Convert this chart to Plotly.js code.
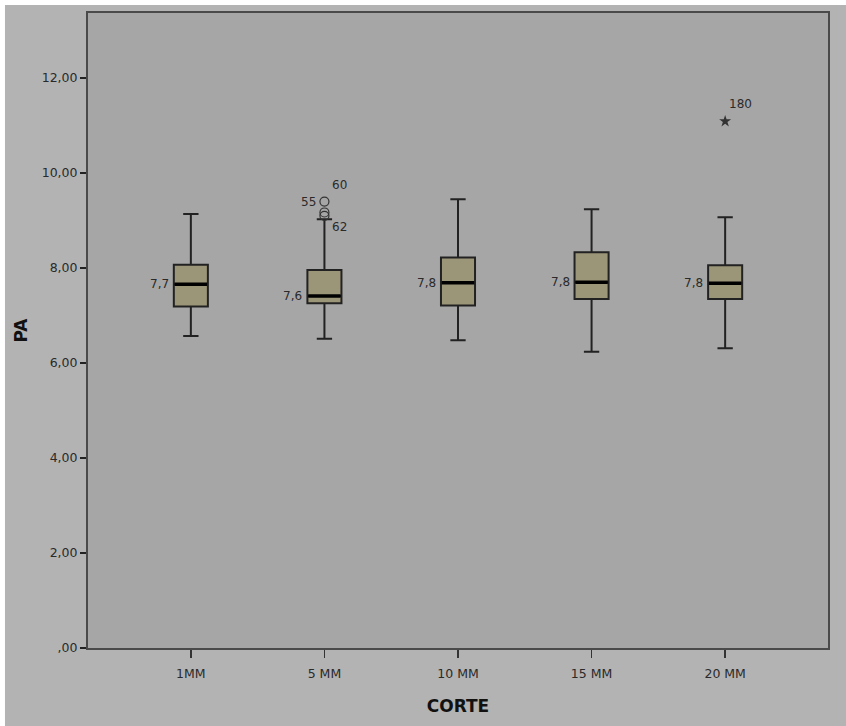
<!DOCTYPE html>
<html>
<head>
<meta charset="utf-8">
<script src="https://cdn.plot.ly/plotly-3.0.1.min.js"></script>
<style>html,body{margin:0;padding:0;background:#fff;}</style>
</head>
<body>
<div id="chart" style="width:846px;height:726px;"></div>
<script>
// ---- data ----
var categories = ['1MM', '5 MM', '10 MM', '15 MM', '20 MM'];
var q1 = [7.19, 7.26, 7.21, 7.35, 7.35];
var medians = [7.66, 7.41, 7.69, 7.70, 7.68];
var q3 = [8.07, 7.96, 8.22, 8.33, 8.06];
var lowerWhisker = [6.57, 6.51, 6.48, 6.24, 6.31];
var upperWhisker = [9.14, 9.03, 9.45, 9.24, 9.07];
var medianLabels = ['7,7', '7,6', '7,8', '7,8', '7,8'];

var outlierCategory = ['5 MM', '5 MM', '5 MM'];
var outlierValues = [9.40, 9.17, 9.10];
var outlierLabels = ['55', '60', '62'];

var extremeCategory = ['20 MM'];
var extremeValues = [11.09];
var extremeLabels = ['180'];

var yTickVals = [0, 2, 4, 6, 8, 10, 12];
var yTickText = [',00', '2,00', '4,00', '6,00', '8,00', '10,00', '12,00'];

// ---- style ----
var boxWidth = 0.255;
var txtFont = {family: 'DejaVu Sans, Verdana, sans-serif', size: 12, color: '#2a2a2a'};
var tickFont = {family: 'DejaVu Sans, Verdana, sans-serif', size: 12.5, color: '#2a2a2a'};

var traces = [
  {
    type: 'box',
    x: categories,
    q1: q1, median: medians, q3: q3,
    lowerfence: lowerWhisker, upperfence: upperWhisker,
    width: boxWidth,
    whiskerwidth: 0.45,
    fillcolor: '#9c9679',
    line: {color: '#222222', width: 2},
    boxpoints: false,
    hoverinfo: 'skip',
    showlegend: false
  },
  {
    type: 'scatter', mode: 'markers',
    x: outlierCategory, y: outlierValues,
    marker: {symbol: 'circle-open', size: 9, color: '#333', line: {width: 1.2}},
    hoverinfo: 'skip', showlegend: false
  },
  {
    type: 'scatter', mode: 'markers',
    x: extremeCategory, y: extremeValues,
    marker: {symbol: 'star', size: 9, color: '#333'},
    hoverinfo: 'skip', showlegend: false
  }
];

var shapes = [
  // thin white strips on top and left edges of the image
  {type: 'rect', xref: 'paper', yref: 'paper', x0: -0.13, x1: 1.03, y0: 1.0126, y1: 1.03,
   fillcolor: '#ffffff', line: {width: 0}, layer: 'above'},
  {type: 'rect', xref: 'paper', yref: 'paper', x0: -0.13, x1: -0.1122, y0: -0.13, y1: 1.03,
   fillcolor: '#ffffff', line: {width: 0}, layer: 'above'}
];
medians.forEach(function (m, i) {
  shapes.push({type: 'line', xref: 'x', yref: 'y',
    x0: i - boxWidth / 2 + 0.006, x1: i + boxWidth / 2 - 0.006, y0: m, y1: m,
    line: {color: '#000', width: 3.5}});
});

var annotations = [];
medians.forEach(function (m, i) {
  annotations.push({x: categories[i], y: m, xref: 'x', yref: 'y', text: medianLabels[i],
    showarrow: false, xanchor: 'right', yanchor: 'middle', xshift: -boxWidth / 2 * 133.5 - 3,
    font: txtFont});
});
var outShift = [{xs: -6, ys: 0, xa: 'right'}, {xs: 6, ys: 27, xa: 'left'}, {xs: 6, ys: -11, xa: 'left'}];
outlierLabels.forEach(function (lab, i) {
  annotations.push({x: outlierCategory[i], y: outlierValues[i], xref: 'x', yref: 'y', text: lab,
    showarrow: false, xanchor: outShift[i].xa, yanchor: 'middle',
    xshift: outShift[i].xs, yshift: outShift[i].ys, font: txtFont});
});
extremeLabels.forEach(function (lab, i) {
  annotations.push({x: extremeCategory[i], y: extremeValues[i], xref: 'x', yref: 'y', text: lab,
    showarrow: false, xanchor: 'left', yanchor: 'middle', xshift: 2, yshift: 17, font: txtFont});
});

var layout = {
  width: 846, height: 726,
  margin: {l: 88, r: 18, t: 13, b: 78, pad: 0},
  paper_bgcolor: '#b3b3b3',
  plot_bgcolor: '#a6a6a6',
  font: txtFont,
  showlegend: false,
  xaxis: {
    type: 'category',
    range: [-0.77, 4.77],
    showgrid: false, zeroline: false,
    showline: true, linecolor: '#4a4a4a', linewidth: 2, mirror: true,
    ticks: 'outside', ticklen: 8, tickwidth: 1.5, tickcolor: '#333',
    ticklabelstandoff: 5,
    tickfont: tickFont,
    title: {text: '<b>CORTE</b>', standoff: 20,
      font: {family: 'DejaVu Sans, Arial, sans-serif', size: 17, color: '#111'}}
  },
  yaxis: {
    range: [0, 13.37],
    tickvals: yTickVals, ticktext: yTickText,
    showgrid: false, zeroline: false,
    showline: true, linecolor: '#4a4a4a', linewidth: 2, mirror: true,
    ticks: 'outside', ticklen: 6, tickwidth: 1.5, tickcolor: '#222',
    tickfont: tickFont,
    title: {text: '<b>PA</b>', standoff: 10,
      font: {family: 'DejaVu Sans, Arial, sans-serif', size: 17, color: '#111'}}
  },
  shapes: shapes,
  annotations: annotations
};

Plotly.newPlot('chart', traces, layout, {displayModeBar: false, staticPlot: true});
</script>
</body>
</html>
